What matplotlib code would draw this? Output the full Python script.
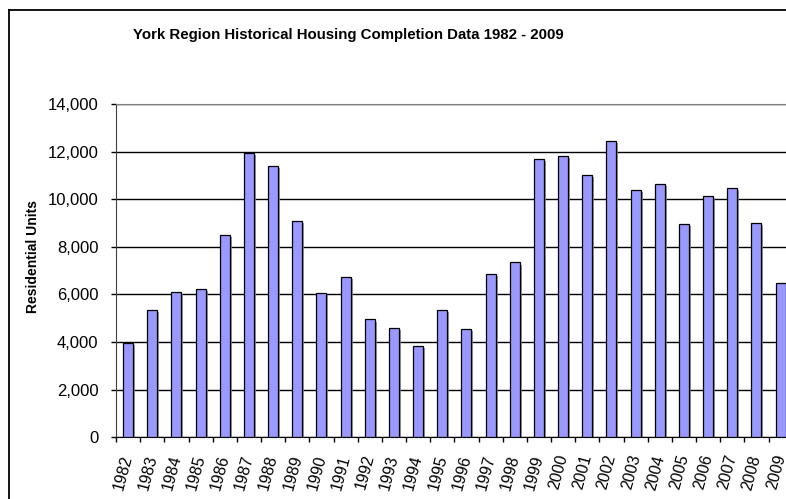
import numpy as np
import matplotlib
matplotlib.use("Agg")
import matplotlib.pyplot as plt
import matplotlib.patheffects as pe
from matplotlib.ticker import FuncFormatter, FixedLocator

plt.rcParams['font.family'] = ['Liberation Sans', 'DejaVu Sans']

# data
years = [str(y) for y in range(1982, 2010)]
units = [3950, 5350, 6100, 6250, 8500, 11950, 11400, 9100, 6050, 6750,
         4950, 4600, 3850, 5330, 4550, 6850, 7350, 11700, 11850, 11050,
         12450, 10400, 10650, 8970, 10150, 10480, 9000, 6480]
y_ticks = [0, 2000, 4000, 6000, 8000, 10000, 12000, 14000]

fig = plt.figure(figsize=(7.86, 4.99), dpi=100)

# outer chart border (right and bottom are cut off in the reference)
fig.add_artist(plt.Line2D([9 / 786, 9 / 786], [0, 1 - 10 / 499], transform=fig.transFigure,
                          color='black', lw=1.3))
fig.add_artist(plt.Line2D([9 / 786, 1], [1 - 10 / 499, 1 - 10 / 499], transform=fig.transFigure,
                          color='black', lw=1.3))

ax = fig.add_axes([116 / 786, 1 - 437 / 499, (792.7 - 116) / 786, (437 - 104.5) / 499])

x = np.arange(len(years)) + 0.5
bars = ax.bar(x, units, width=0.41, color='#9999FF', edgecolor='black', linewidth=0.9, zorder=3)
for b in bars:
    b.set_path_effects([pe.SimplePatchShadow(offset=(1.5, -1.5), shadow_rgbFace='#808080', alpha=0.8),
                        pe.Normal()])

ax.set_xlim(0, len(years))
ax.set_ylim(0, 14000)

ax.set_yticks(y_ticks)
ax.yaxis.set_major_formatter(FuncFormatter(lambda v, p: f"{int(v):,}"))
ax.tick_params(axis='y', direction='out', length=3.6, width=1, labelsize=12, pad=9)

ax.xaxis.set_major_locator(FixedLocator(np.arange(len(years) + 1)))
ax.xaxis.set_minor_locator(FixedLocator(x))
ax.set_xticklabels([], minor=False)
ax.set_xticklabels(years, minor=True, rotation=75, fontsize=11.5,
                   ha='right', va='center', rotation_mode='anchor')
ax.tick_params(axis='x', which='major', direction='out', length=3.6, width=1)
ax.tick_params(axis='x', which='minor', length=0, pad=13)

ax.grid(axis='y', color='black', linewidth=1, zorder=0)
ax.spines['right'].set_visible(False)
ax.spines['top'].set_color('#808080')
ax.spines['top'].set_linestyle((0, (2, 1)))
ax.spines['left'].set_linestyle((0, (2, 1)))
ax.spines['left'].set_color('#404040')
ax.spines['bottom'].set_color('black')

ax.set_ylabel('Residential Units', fontsize=10, fontweight='bold')
ax.yaxis.set_label_coords(-0.112, 0.544)

fig.text(348 / 786, 1 - 35 / 499, 'York Region Historical Housing Completion Data 1982 - 2009',
         ha='center', va='center', fontsize=10.8, fontweight='bold')

fig.savefig('out.png', dpi=100)
